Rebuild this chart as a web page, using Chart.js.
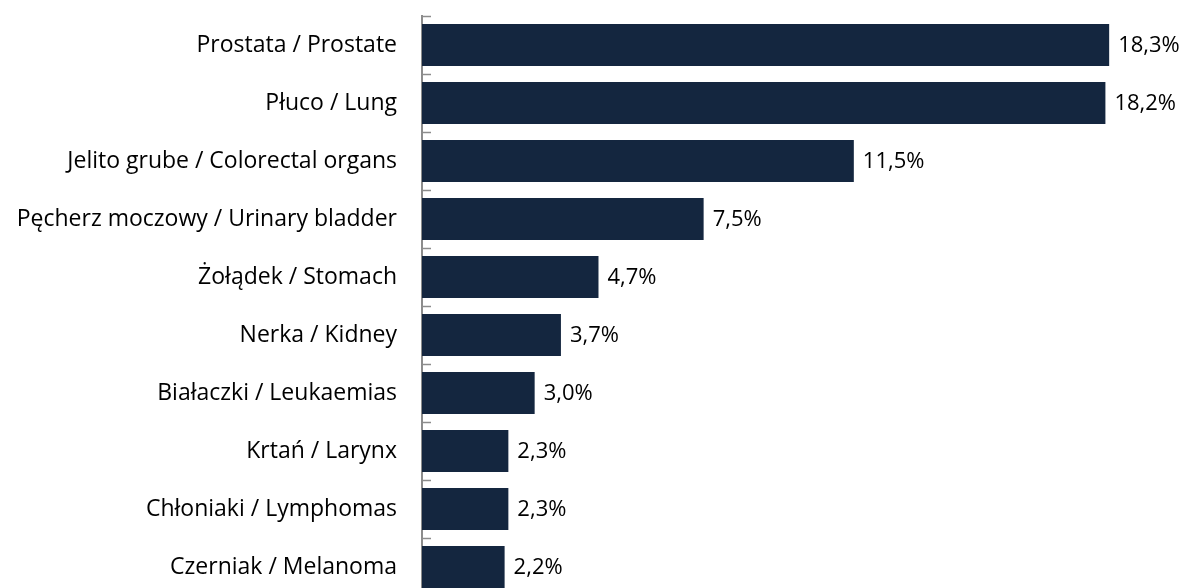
<!DOCTYPE html>
<html>
<head>
<meta charset="utf-8">
<script src="https://cdn.jsdelivr.net/npm/chart.js@4/dist/chart.umd.min.js"></script>
<style>
  html, body { margin: 0; padding: 0; background: #fff; overflow: hidden; }
  canvas { display: block; }
</style>
</head>
<body>
<canvas id="CancerChart" width="1193" height="600"></canvas>
<script>
// Data
const categories = [
    'Prostata / Prostate',
    'Płuco / Lung',
    'Jelito grube / Colorectal organs',
    'Pęcherz moczowy / Urinary bladder',
    'Żołądek / Stomach',
    'Nerka / Kidney',
    'Białaczki / Leukaemias',
    'Krtań / Larynx',
    'Chłoniaki / Lymphomas',
    'Czerniak / Melanoma'
];
const shares = [18.3, 18.2, 11.5, 7.5, 4.7, 3.7, 3.0, 2.3, 2.3, 2.2];

const FONT = '"Open Sans", sans-serif';

// value labels at the end of each bar, with a decimal comma
const valueLabels = {
    id: 'valueLabels',
    afterDatasetsDraw(chart) {
        const ctx = chart.ctx;
        const meta = chart.getDatasetMeta(0);
        ctx.save();
        ctx.font = '22px ' + FONT;
        ctx.fillStyle = '#000';
        ctx.textAlign = 'left';
        ctx.textBaseline = 'middle';
        meta.data.forEach((bar, i) => {
            const txt = shares[i].toFixed(1).replace('.', ',') + '%';
            ctx.fillText(txt, bar.x + 9, bar.y + 1);
        });
        ctx.restore();
    }
};

// small tick marks between categories, pointing into the plot
const innerTicks = {
    id: 'innerTicks',
    afterDraw(chart) {
        const ctx = chart.ctx;
        const y = chart.scales.y;
        const x0 = chart.chartArea.left;
        ctx.save();
        ctx.strokeStyle = '#8c8c8c';
        ctx.lineWidth = 1.5;
        for (let i = 0; i <= categories.length; i++) {
            const py = Math.round(y.getPixelForValue(i - 0.5)) + 0.5;
            ctx.beginPath();
            ctx.moveTo(x0, py);
            ctx.lineTo(x0 + 9, py);
            ctx.stroke();
        }
        ctx.restore();
    }
};

const ctx = document.getElementById('CancerChart').getContext('2d');
new Chart(ctx, {
    type: 'bar',
    data: {
        labels: categories,
        datasets: [{
            data: shares,
            backgroundColor: '#14263f',
            barPercentage: 0.72,
            categoryPercentage: 1.0
        }]
    },
    options: {
        indexAxis: 'y',
        responsive: false,
        animation: false,
        layout: {
            padding: { left: 0, right: 20, top: 16, bottom: 4 }
        },
        plugins: {
            legend: { display: false },
            tooltip: { enabled: false }
        },
        scales: {
            x: {
                display: false,
                min: 0,
                max: 20
            },
            y: {
                afterFit(scale) {
                    scale.width = 422;
                    scale.paddingTop = 0;
                    scale.paddingBottom = 0;
                },
                grid: { display: false, drawTicks: false },
                border: { display: true, color: '#8c8c8c', width: 2 },
                ticks: {
                    padding: 25,
                    color: '#000',
                    font: { family: FONT, size: 23 }
                }
            }
        }
    },
    plugins: [valueLabels, innerTicks]
});
</script>
</body>
</html>
